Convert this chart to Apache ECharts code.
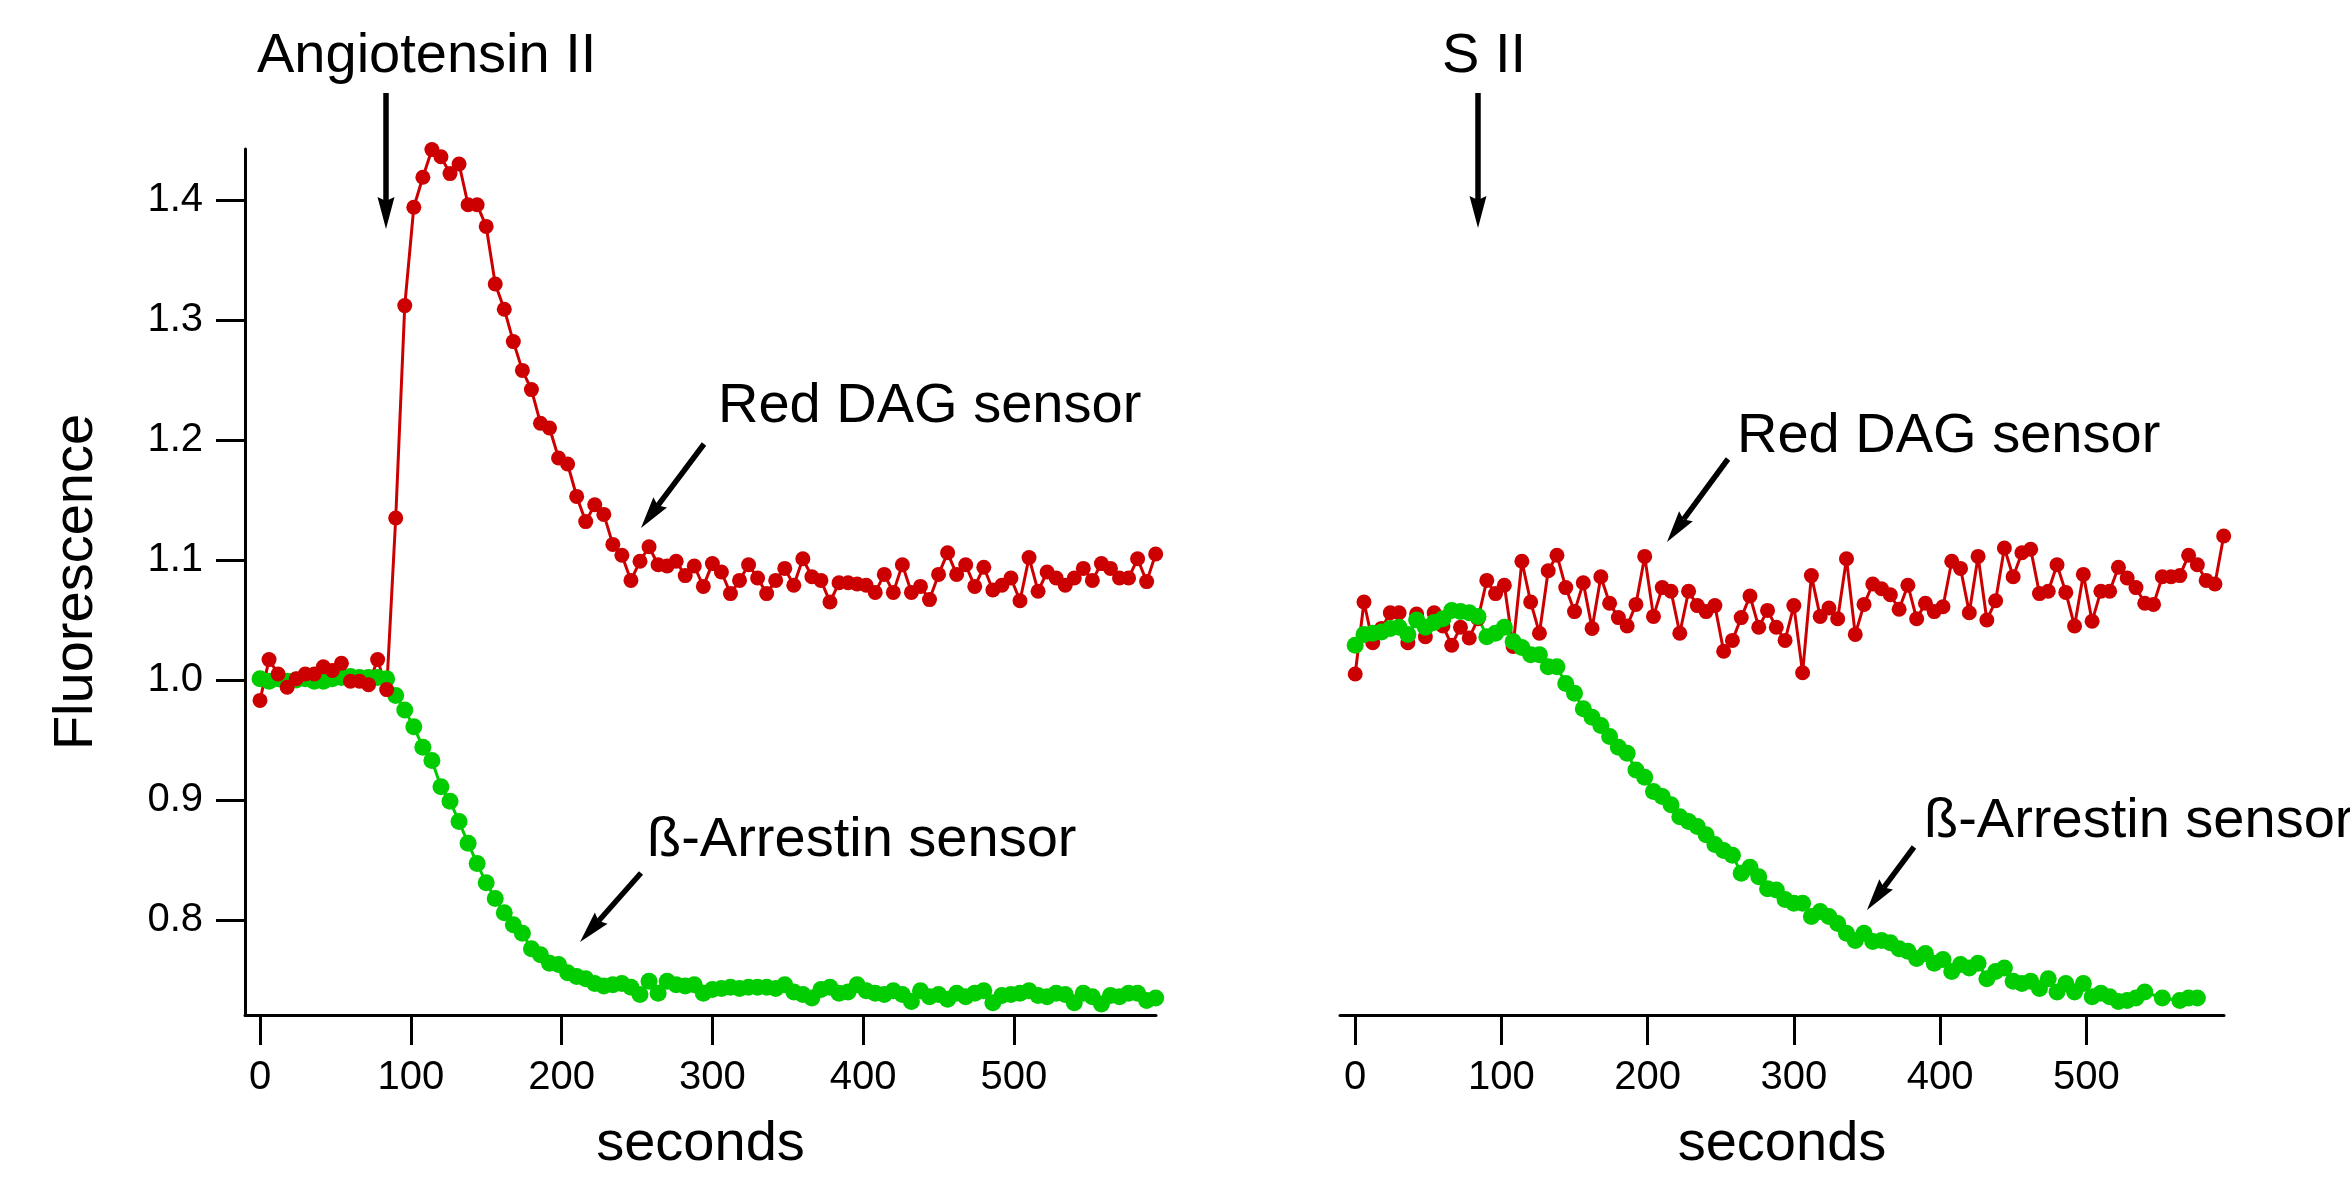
<!DOCTYPE html>
<html>
<head>
<meta charset="utf-8">
<script src="https://cdn.jsdelivr.net/npm/echarts@6/dist/echarts.min.js"></script>
<style>
html,body{margin:0;padding:0;background:#fff;}
#chart{width:2350px;height:1178px;}
</style>
</head>
<body>
<div id="chart"></div>
<script>
// ---------- data ----------
var seconds = [0,6,12,18,24,30,36,42,48,54,60,66,72,78,84,90,96,102,108,114,120,126,132,138,144,150,156,162,168,174,180,186,192,198,204,210,216,222,228,234,240,246,252,258,264,270,276,282,288,294,300,306,312,318,324,330,336,342,348,354,360,366,372,378,384,390,396,402,408,414,420,426,432,438,444,450,456,462,468,474,480,486,492,498,504,510,516,522,528,534,540,546,552,558,564,570,576,582,588,594];

// Left panel (Angiotensin II)
var angRedDAG = [0.983,1.017,1.005,0.994,1.001,1.005,1.005,1.011,1.008,1.014,0.999,0.999,0.996,1.017,0.992,1.135,1.312,1.394,1.419,1.442,1.436,1.422,1.430,1.396,1.396,1.378,1.330,1.309,1.282,1.258,1.242,1.214,1.210,1.185,1.180,1.153,1.132,1.146,1.138,1.113,1.104,1.083,1.099,1.111,1.096,1.095,1.099,1.087,1.095,1.078,1.097,1.090,1.072,1.083,1.096,1.085,1.072,1.083,1.093,1.079,1.101,1.086,1.083,1.065,1.081,1.081,1.080,1.079,1.073,1.088,1.073,1.096,1.073,1.078,1.067,1.088,1.106,1.088,1.096,1.078,1.094,1.075,1.079,1.085,1.066,1.102,1.074,1.090,1.085,1.079,1.085,1.093,1.083,1.097,1.093,1.085,1.085,1.101,1.082,1.105];
var angArrestin = [1.001,0.999,1.001,0.999,1.000,1.001,0.999,0.999,1.001,1.002,1.003,1.002,1.002,1.002,1.001,0.987,0.975,0.961,0.944,0.933,0.911,0.899,0.882,0.864,0.847,0.831,0.818,0.806,0.796,0.789,0.776,0.771,0.764,0.763,0.756,0.753,0.751,0.747,0.745,0.746,0.747,0.744,0.738,0.749,0.739,0.749,0.746,0.745,0.746,0.739,0.742,0.743,0.744,0.743,0.744,0.744,0.744,0.743,0.746,0.740,0.738,0.735,0.742,0.744,0.739,0.740,0.746,0.741,0.739,0.738,0.741,0.738,0.732,0.741,0.736,0.738,0.734,0.739,0.736,0.739,0.741,0.731,0.737,0.738,0.739,0.741,0.737,0.736,0.739,0.738,0.731,0.739,0.736,0.730,0.737,0.736,0.739,0.739,0.733,0.735];

// Right panel (S II)
var siiRedDAG = [1.005,1.065,1.031,1.043,1.056,1.056,1.031,1.055,1.036,1.056,1.045,1.029,1.044,1.035,1.051,1.083,1.072,1.079,1.028,1.099,1.065,1.039,1.091,1.104,1.077,1.057,1.081,1.043,1.086,1.064,1.052,1.045,1.063,1.103,1.053,1.077,1.074,1.039,1.074,1.062,1.057,1.062,1.024,1.033,1.052,1.070,1.044,1.058,1.044,1.033,1.062,1.006,1.087,1.053,1.060,1.051,1.101,1.038,1.063,1.080,1.076,1.071,1.059,1.079,1.051,1.064,1.057,1.061,1.099,1.093,1.056,1.103,1.050,1.066,1.110,1.086,1.106,1.109,1.072,1.074,1.096,1.073,1.045,1.088,1.049,1.074,1.074,1.094,1.085,1.077,1.064,1.063,1.086,1.086,1.087,1.104,1.096,1.083,1.080,1.120];
var siiArrestin = [1.029,1.038,1.039,1.040,1.043,1.044,1.038,1.050,1.044,1.048,1.051,1.058,1.057,1.056,1.053,1.036,1.039,1.044,1.032,1.027,1.021,1.021,1.011,1.011,0.997,0.989,0.976,0.969,0.962,0.953,0.944,0.939,0.925,0.919,0.907,0.903,0.896,0.886,0.882,0.878,0.871,0.863,0.858,0.854,0.839,0.844,0.836,0.826,0.825,0.817,0.814,0.814,0.803,0.807,0.803,0.797,0.789,0.783,0.789,0.782,0.783,0.781,0.776,0.774,0.768,0.772,0.764,0.767,0.757,0.763,0.760,0.764,0.751,0.757,0.760,0.749,0.747,0.749,0.743,0.751,0.740,0.747,0.740,0.747,0.736,0.739,0.736,0.732,0.733,0.735,0.740,null,0.735,null,0.733,0.735,0.735];

var xTicks = [0,100,200,300,400,500];
var yTicks = [0.8,0.9,1.0,1.1,1.2,1.3,1.4];

// ---------- styling ----------
var RED = '#cc0000', GREEN = '#00cc00';
var FONT = '"Liberation Sans", Arial, Helvetica, sans-serif';

function pairs(values){ return values.map(function(v,i){ return [seconds[i], v]; }); }

function xAxisCfg(gi, min){
  return {
    type:'value', gridIndex:gi, min:min, max:594.2,
    name:'seconds', nameLocation:'middle', nameGap:102,
    nameTextStyle:{fontFamily:FONT, fontSize:56, color:'#000'},
    axisLine:{onZero:false, lineStyle:{color:'#000', width:3}},
    axisTick:{show:true, inside:false, length:30, customValues:xTicks, lineStyle:{color:'#000', width:3}},
    axisLabel:{customValues:xTicks, fontFamily:FONT, fontSize:40, color:'#000', margin:43},
    splitLine:{show:false}
  };
}

function arrow(tail, tip){
  var dx = tip[0]-tail[0], dy = tip[1]-tail[1];
  var len = Math.sqrt(dx*dx+dy*dy); dx/=len; dy/=len;
  var L = 32, W = 8.5, notch = 4;
  var bx = tip[0]-L*dx, by = tip[1]-L*dy;
  var nx = -dy, ny = dx;
  return [
    {type:'line', silent:true, shape:{x1:tail[0], y1:tail[1], x2:bx+notch*dx, y2:by+notch*dy}, style:{stroke:'#000', lineWidth:5.5}},
    {type:'polygon', silent:true, shape:{points:[[tip[0],tip[1]],[bx+W*nx,by+W*ny],[bx+notch*dx,by+notch*dy],[bx-W*nx,by-W*ny]]}, style:{fill:'#000'}}
  ];
}
function label(text, x, baseline){
  return {type:'text', silent:true, x:x, y:baseline-19.5, style:{text:text, font:'56px '+FONT, fill:'#000', textAlign:'left', textVerticalAlign:'middle'}};
}

var graphics = [].concat(
  [label('Angiotensin II', 257, 76.5), label('S II', 1442, 76.5),
   label('Red DAG sensor', 718, 425.6), label('Red DAG sensor', 1737, 456),
   label('ß-Arrestin sensor', 647, 860), label('ß-Arrestin sensor', 1924, 841)],
  arrow([386,93],[386,229]),
  arrow([1478,93],[1478,228]),
  arrow([704,444],[641,528]),
  arrow([641,873],[580,942]),
  arrow([1728,459],[1667,542]),
  arrow([1914,847],[1867,910])
);

var chart = echarts.init(document.getElementById('chart'), null, {renderer:'canvas'});
chart.setOption({
  animation:false,
  backgroundColor:'#fff',
  grid:[
    {left:245, top:149, width:911, height:866},
    {left:1340, top:149, width:884, height:866}
  ],
  xAxis:[ xAxisCfg(0, -9.95), xAxisCfg(1, -10.4) ],
  yAxis:[
    {type:'value', gridIndex:0, min:0.72083, max:1.4425,
     name:'Fluorescence', nameLocation:'middle', nameGap:140,
     nameTextStyle:{fontFamily:FONT, fontSize:56, color:'#000'},
     axisLine:{onZero:false, lineStyle:{color:'#000', width:3}},
     axisTick:{show:true, inside:false, length:29, customValues:yTicks, lineStyle:{color:'#000', width:3}},
     axisLabel:{customValues:yTicks, fontFamily:FONT, fontSize:40, color:'#000', margin:42,
       formatter:function(v){ return Number(v).toFixed(1); }},
     splitLine:{show:false}},
    {type:'value', gridIndex:1, min:0.72083, max:1.4425, show:false, splitLine:{show:false}}
  ],
  series:[
    {name:'β-Arrestin sensor (Angiotensin II)', type:'line', xAxisIndex:0, yAxisIndex:0, data:pairs(angArrestin),
     symbol:'circle', symbolSize:17, itemStyle:{color:GREEN}, lineStyle:{color:GREEN, width:3}},
    {name:'Red DAG sensor (Angiotensin II)', type:'line', xAxisIndex:0, yAxisIndex:0, data:pairs(angRedDAG),
     symbol:'circle', symbolSize:15, itemStyle:{color:RED}, lineStyle:{color:RED, width:3}},
    {name:'Red DAG sensor (S II)', type:'line', xAxisIndex:1, yAxisIndex:1, data:pairs(siiRedDAG),
     symbol:'circle', symbolSize:15, itemStyle:{color:RED}, lineStyle:{color:RED, width:3}},
    {name:'β-Arrestin sensor (S II)', type:'line', xAxisIndex:1, yAxisIndex:1, data:pairs(siiArrestin), connectNulls:true,
     symbol:'circle', symbolSize:17, itemStyle:{color:GREEN}, lineStyle:{color:GREEN, width:3}}
  ],
  graphic:graphics
});
</script>
</body>
</html>
